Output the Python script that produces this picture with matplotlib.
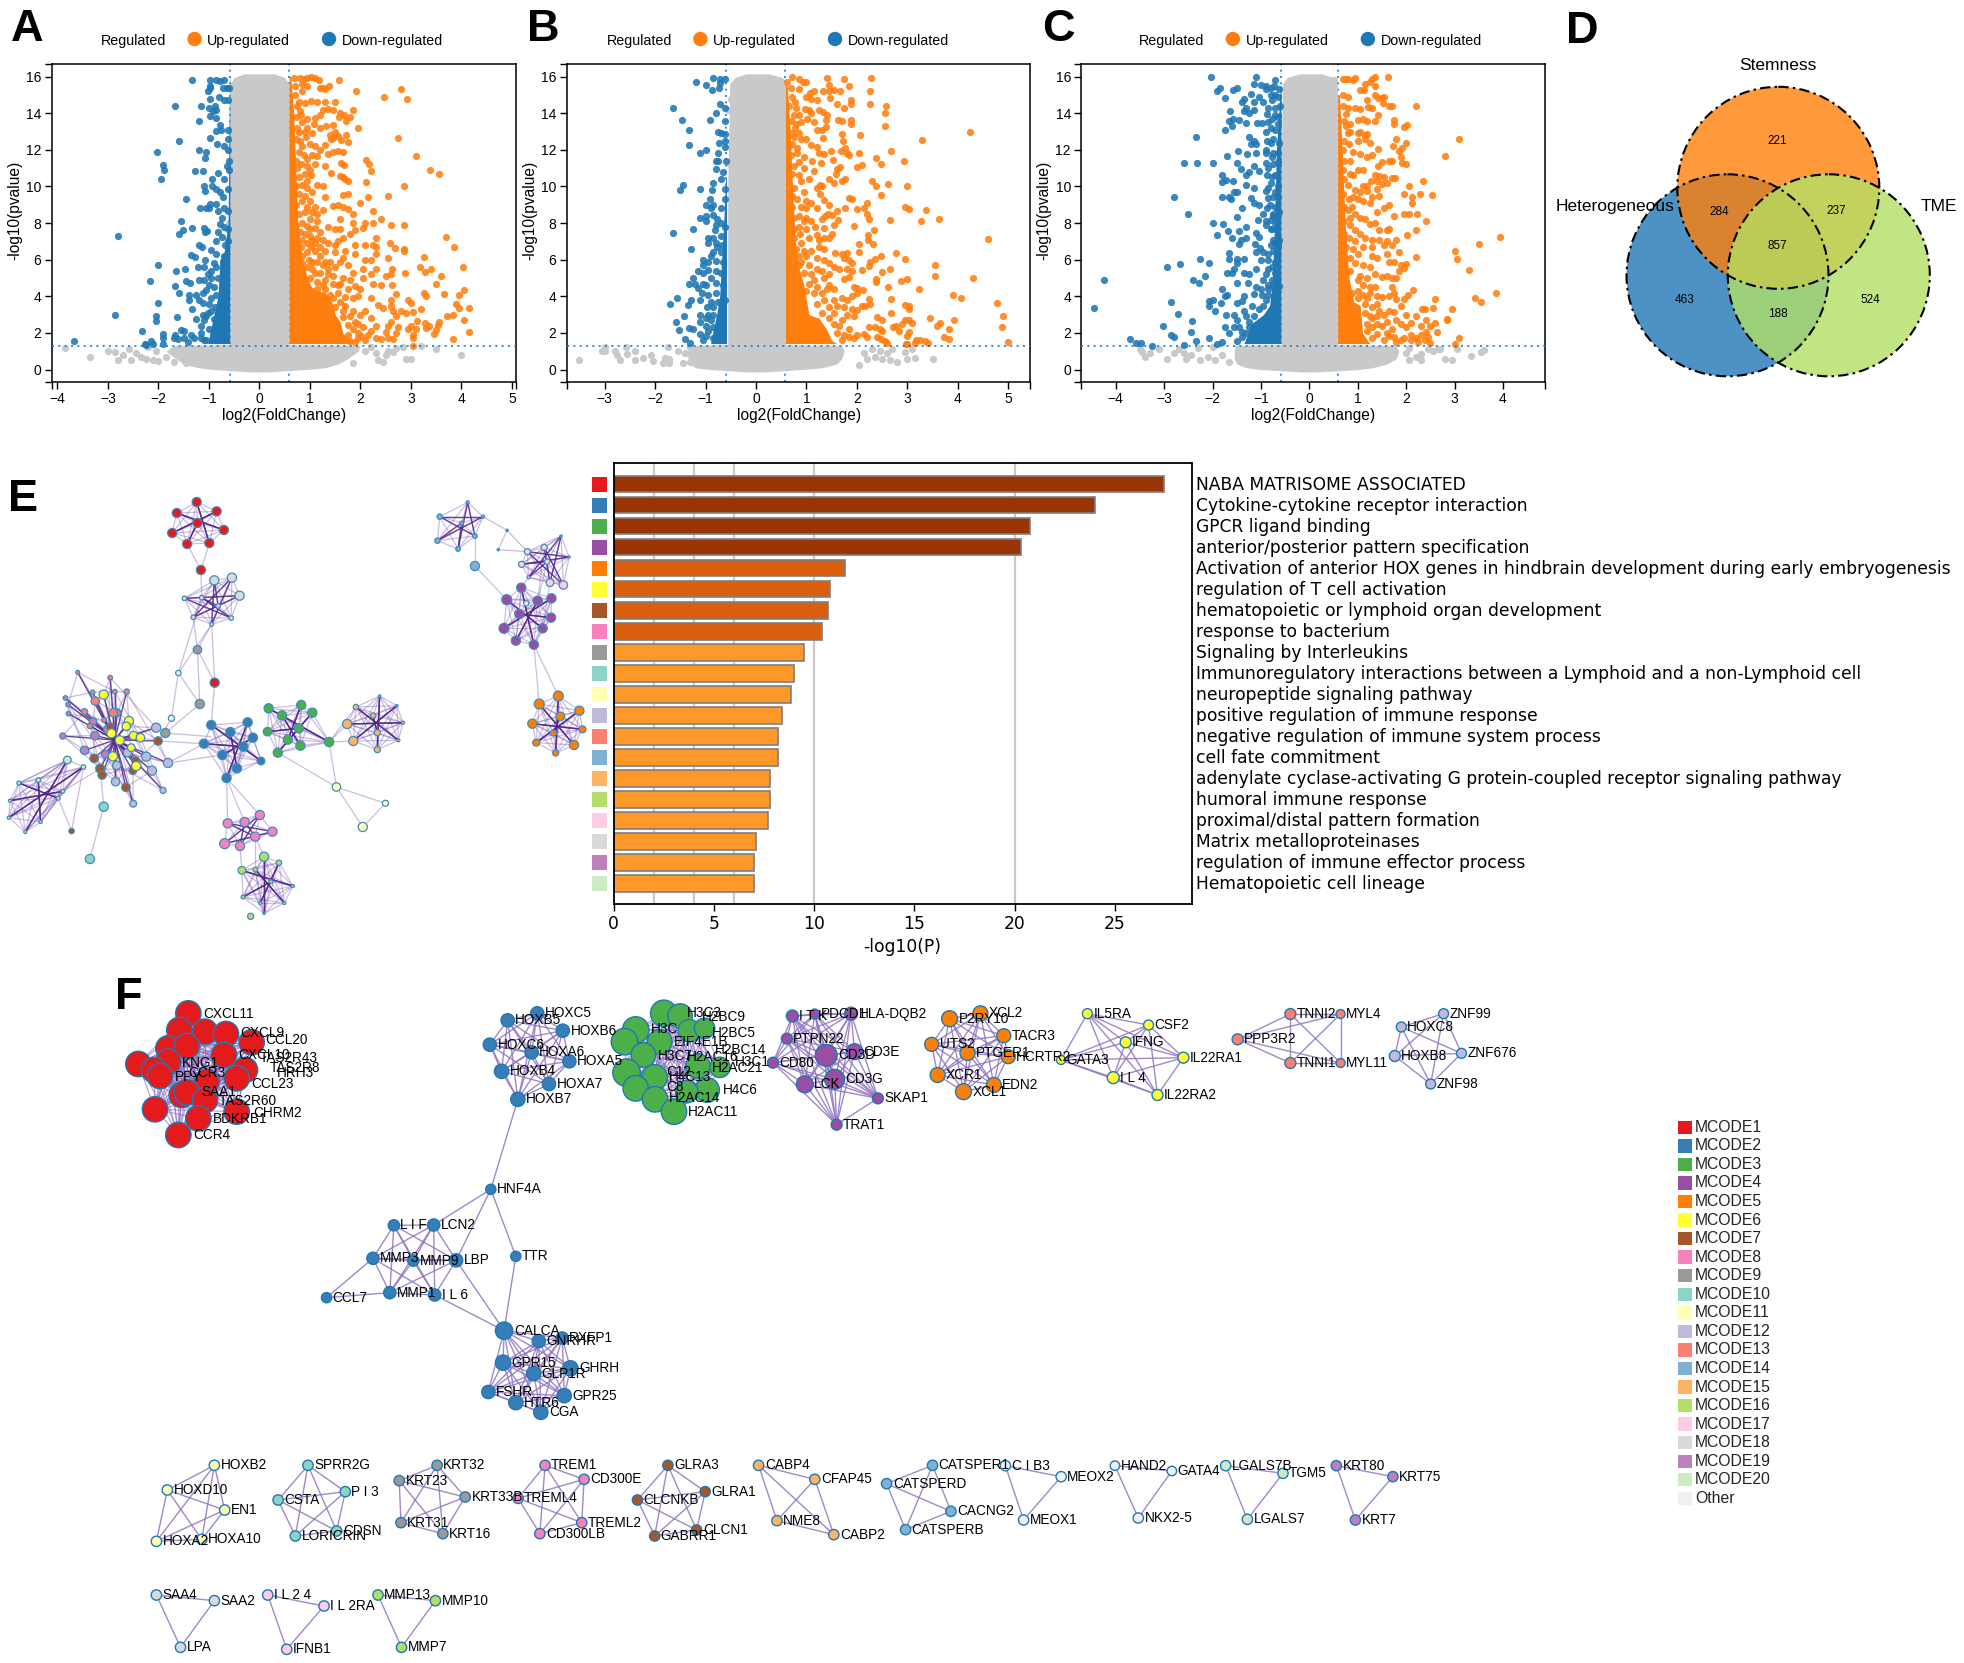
import itertools
import numpy as np
import matplotlib
matplotlib.use("Agg")
import matplotlib.pyplot as plt
from matplotlib.collections import LineCollection
from matplotlib.patches import Circle, Polygon, Rectangle

plt.rcParams['font.family'] = ['Liberation Sans', 'DejaVu Sans']
W, H = 1965, 1663

# ---------- volcano panels (log2FC, -log10p pairs) ----------
A_UP = [0.68,15.9,0.8,15.9,0.88,15.85,0.95,15.9,1.03,16,1.1,15.9,1.17,15.8,1.58,15.8,0.7,15.5,0.85,15.6,0.95,15.5,1.25,15.4,1.37,15.5,1.3,15.3,1.2,15.35,1.92,15.2,2.8,15.3,2.47,14.9,2.92,14.8,0.7,15,0.85,15.2,0.78,14.6,0.9,14.55,1.02,14.65,1.15,14.6,1.3,14.6,1.5,14.6,1.35,14.25,1.25,14.2,0.8,14.1,1.2,13.9,1.45,14.15,1.6,14,1.58,13.8,1.85,14.15,1.8,13.8,1.68,13.9,1.72,13.55,1.95,13.2,1.1,13.75,0.95,13.7,0.85,13.5,1.08,13.4,1.2,13.2,1.32,13.3,1.45,13.35,0.75,13.2,0.9,13.0,1.05,12.9,1.5,13,1.4,12.8,1.45,12.65,1.55,12.75,1.72,12.8,1.62,12.55,1.75,12.45,2.75,12.65,1.42,12.6,1.3,12.25,1.1,12.2,0.85,12.2,0.8,12.5,1.2,12,1.35,11.75,1.45,11.9,1.65,11.9,1.55,11.95,1.05,11.7,0.95,11.5,1.15,11.65,2.12,11.45,2.17,11.2,2.2,10.85,3.1,11.65,3.37,10.9,3.55,10.7,1.62,11.3,1.67,11.15,0.75,11,1.1,11.2,1.3,11.1,0.9,10.7,1.0,10.9,1.42,10.75,1.6,10.55,1.7,10.4,1.75,10.3,1.65,10.5,2.12,10.25,2.87,10,2.55,9.5,1.75,9.6,1.65,9.55,0.95,10.3,1.15,10.1,1.25,10,1.3,9.4,2.15,9.4,2.0,9.1,1.55,9,1.65,8.9,1.45,8.95,1.75,8.75,1.85,8.5,2.25,8.65,2.4,8.25,1.6,8.25,1.85,8.0,2.1,8.0,2.25,8.0,2.6,7.9,2.87,7.9,2.05,7.75,1.9,7.6,1.8,7.4,1.6,7.7,1.35,7.8,1.5,7.7,1.2,7.5,1.0,7.7,1.65,7.2,1.55,7.0,1.5,6.8,2.3,7.2,2.58,6.9,2.1,6.8,1.9,6.8,2.25,6.8,2.3,6.7,2.68,6.65,2.87,6.6,2.87,6.5,3.7,7.25,3.85,6.7,2.3,6.3,1.9,6.3,2.55,6.1,3.25,6.15,2.1,6,2.2,6,1.65,6.1,1.4,5.9,1.2,6.2,1.1,6.5,2.05,5.5,2.3,5.5,2.2,5.2,2.05,5.0,2.63,5.5,2.6,5.2,2.5,5.1,2.88,5.3,3.17,5.6,3.27,5.35,3.4,5.5,3.6,5.1,4.03,5.6,3.5,4.7,2.25,4.7,2.4,4.6,2.62,4.6,2.7,4.15,3.25,4.2,3.3,4.0,3.65,4.15,4.05,4.35,3.95,4.1,2.95,3.8,3.0,3.65,2.6,3.8,2.6,3.5,3.05,3.15,3.2,3.3,3.9,3.6,3.95,3.35,4.15,3.35,3.72,2.95,3.83,3.0,3.55,2.6,3.53,2.45,3.27,2.55,4.05,2.7,3.12,2.65,3.0,2.4,2.95,2.2,3.1,2.2,3.45,1.95,3.5,2.15,3.3,2.25,3.35,2.4,4.15,2.05,3.05,1.9,3.05,1.7,3.83,1.65,3.05,1.3,2.35,3.55,2.45,3.35,2.65,3.2,2.7,2.95,2.8,3.2,2.9,3.1,2.2,3.9,2.0,4.4,1.9,4.55,2.6,2.6,2.55,2.4,2.75,2.3,2.5,2.05,2.7,2.0,2.3,1.7,2.4,1.65,2.55,1.7,2.65,1.65,2.15,1.9,
0.9,9.5,1.0,9.2,1.1,8.9,1.25,8.7,0.9,8.6,1.0,8.2,1.15,8.1,0.9,7.4,1.05,7.1,1.25,7.1,1.35,6.9,0.95,6.9,1.1,6.9,1.3,6.5,1.5,6.4,1.7,6.5,1.6,5.9,1.75,5.7,1.85,5.3,1.5,5.6,1.35,5.5,1.25,5.7,1.05,5.9,0.95,5.6,1.1,5.3,1.45,5.1,1.65,5.0,1.8,4.9,1.3,4.9,1.55,4.6,1.75,4.4,1.95,4.0,1.85,3.9,1.7,3.95,2.1,3.2,2.0,3.0,2.2,2.8,1.9,2.6,2.05,2.3,2.2,2.1,2.3,2.4,1.95,2.0,2.1,1.6,1.9,1.5,1.3,4.4,1.4,4.1,1.55,4.2,
0.74,14.4,0.72,13.8,0.83,13.9,0.78,13.0,0.95,13.2,0.72,12.6,0.92,12.7,1.0,12.3,0.78,11.9,0.88,11.7,0.72,11.4,0.82,11.2,0.95,11.1,1.02,10.6,0.78,10.5,0.85,10.1,0.72,10.0,0.95,9.9,1.05,9.7,0.78,9.6,0.85,9.2,0.72,9.0,0.95,8.9,0.78,8.5,1.05,8.6,1.15,8.5,0.85,8.0,0.72,7.9,0.95,7.85,1.1,7.75,0.8,7.5,0.85,7.1,1.0,7.3,1.15,7.2,0.72,6.9,0.82,6.7,0.95,6.4,1.02,6.7,1.2,6.7,0.85,6.2,0.98,6.0,1.15,5.9,1.3,5.9,0.85,5.8,1.05,5.5,1.2,5.3,1.35,5.2,1.0,5.0,1.15,4.8,1.25,4.6,1.45,4.7,1.15,4.4,1.05,4.3,1.6,4.7,1.25,4.0,1.45,3.9,1.6,3.7,1.35,3.7,1.5,3.4,1.65,3.2,1.7,3.5,1.85,3.2,1.8,2.9,1.65,2.85,1.95,2.5,1.75,2.45,1.85,2.2,1.75,1.9,1.95,1.75,2.02,1.85,1.8,1.55]
A_DOWN = [-1.33,15.8,-0.97,15.8,-0.98,15.5,-0.85,15.8,-0.78,15.75,-0.7,15.8,-0.72,15.4,-0.65,15.35,-0.6,15.4,-1.02,15.2,-0.98,15.4,-0.98,14.75,-0.8,14.9,-0.7,14.7,-0.62,14.7,-1.68,14.4,-1.15,14.4,-1.0,14.3,-0.88,14.4,-0.85,14.2,-0.92,14.1,-0.97,13.85,-0.86,13.75,-1.2,13.55,-0.78,13.35,-0.85,13.05,-0.77,13.1,-0.63,13.1,-0.98,12.65,-0.62,12.6,-1.6,12.5,-0.83,12.3,-0.7,12.2,-0.62,12.0,-1.2,12,-1.06,11.9,-2.03,11.9,-1.08,11.55,-0.6,11.4,-0.65,11.1,-1.9,11.15,-1.88,10.9,-1.28,10.85,-1.12,10.85,-0.82,10.75,-0.6,10.9,-1.95,10.4,-0.93,10.4,-0.7,10.4,-1.1,10.05,-0.93,10,-0.85,9.85,-0.78,9.7,-0.62,9.85,-1.08,9.75,-0.72,9.45,-1.45,9.3,-0.85,9.05,-0.97,9.05,-1,8.85,-1.06,8.85,-1.18,8.85,-0.7,8.85,-0.82,8.65,-0.62,8.65,-0.75,8.3,-1.55,8.1,-0.78,7.95,-0.7,7.8,-0.62,7.7,-1.1,7.75,-1.33,7.75,-1.03,7.55,-1.52,7.65,-1.08,7.5,-1.6,7.4,-0.82,7.5,-2.8,7.3,-0.75,7.25,-0.62,7.0,-1.2,6.8,-1.13,6.7,-0.68,6.8,-0.95,6.55,-1.35,6.25,-1.28,6.15,-1.08,6.0,-0.85,6.3,-0.7,6.2,-2.0,5.7,-1.22,5.6,-1.47,5.5,-1.65,5.4,-1.1,5.6,-0.9,5.8,-2.17,4.85,-1.45,4.85,-1.38,4.75,-1.2,4.9,-1.1,4.9,-1.67,4.55,-1.6,4.2,-1.0,4.6,-1.4,4.05,-1.25,4.05,-1.12,4.2,-1.4,3.8,-2.0,3.65,-1.2,3.8,-1.12,3.65,-1.33,3.3,-1.02,3.1,-2.85,3.0,-2.05,2.9,-2.04,2.65,-1.63,2.85,-1.25,2.75,-1.1,2.7,-1.15,2.4,-2.33,2.1,-1.55,2.15,-1.5,2.1,-1.9,1.95,-1.68,1.9,-1.7,1.75,-1.9,1.7,-1.62,1.65,-1.5,1.7,-1.35,1.9,-1.3,1.7,-1.15,2.0,-3.67,1.55,-2.15,1.55,-2.1,1.4,-2.27,1.4,-2.25,1.35,-1.42,1.5,-1.1,1.6,-1.9,1.4,
-0.72,5.9,-0.85,5.6,-0.95,5.4,-0.82,5.0,-0.95,5.0,-1.02,5.2,-0.9,4.5,-1.05,4.35,-0.85,4.1,-0.95,3.9,-1.0,3.6,-0.88,3.4,-0.95,3.2,-1.05,2.9,-0.9,2.75,-1.15,1.75,-1.0,2.2,-1.05,1.6,-1.12,3.0,-0.85,7.0]
A_GRAY = [-3.85,1.2,-3.35,0.7,-3,1,-2.85,0.95,-2.8,0.55,-2.7,0.8,-2.58,1.15,-2.55,0.5,-2.45,0.9,-2.35,0.7,-2.25,0.6,-2.1,0.5,-2,0.45,-1.85,0.7,-1.7,0.4,-1.6,1.0,-2.2,1.25,-2.05,1.0,-1.45,0.35,-1.3,0.45,2.1,1.0,2.3,0.9,2.35,0.55,2.45,0.4,2.55,1,2.7,1.2,2.85,1.25,2.9,0.6,3.0,0.6,3.2,1.3,3.5,1.1,4,0.8,2.5,0.8,2.65,0.95,2.2,1.25,1.85,0.35,-0.6,8.0,-0.56,7.0,-0.58,9.8,-0.55,12.3]
B_UP = [0.72,16,0.85,15.85,0.93,15.7,1.0,15.7,0.62,15.7,0.7,15.4,0.85,15.3,1.08,15.1,1.15,15.2,1.0,14.9,1.1,14.8,1.2,14.7,1.45,15.2,1.4,15.9,1.45,15.55,1.75,15.85,1.85,15.5,1.55,15.25,1.67,15.2,1.32,15.2,1.47,14.85,1.6,14.5,1.75,14.3,1.88,14.7,1.88,14.5,0.65,14.4,0.8,14.3,0.75,13.9,0.85,13.9,0.98,14.25,1.05,14.2,1.1,14.0,1.25,14.2,1.32,14.05,1.4,13.9,1.38,13.65,1.62,13.65,1.7,13.6,1.88,13.65,1.88,13.4,0.8,13.4,0.9,13.5,1.02,13.7,1.15,13.5,1.2,13.1,1.3,13.1,1.38,13.25,1.7,12.85,2.07,12.8,0.75,12.7,0.9,12.6,1.0,12.6,1.32,12.65,1.72,12.5,0.65,12.2,1.1,12.25,1.2,12.15,1.25,11.85,1.35,11.75,1.48,11.95,1.68,11.95,1.76,12.1,1.8,11.85,1.85,11.7,2.05,11.8,0.75,11.1,0.85,11.35,0.95,11.0,1.12,11.4,1.15,10.85,1.28,11.3,1.53,11.45,1.6,10.95,1.67,11.05,1.58,10.7,1.77,10.4,1.45,10.4,1.55,10.2,1.27,10.1,1.05,10.4,0.9,10.3,0.65,10.15,0.75,9.9,0.95,9.7,1.2,9.9,1.3,10.0,1.27,9.6,1.7,10.3,1.85,9.35,1.9,9.3,1.35,9.25,1.45,9.0,1.0,9.2,1.1,9.1,1.0,8.8,1.2,8.85,1.5,8.45,1.42,8.5,1.6,8.65,1.77,8.8,1.3,8.25,1.37,8.4,1.62,8.15,0.85,8.4,1.0,8.3,1.1,8.1,1.17,7.8,1.35,7.75,1.55,7.9,1.95,7.85,0.85,7.8,1.0,7.7,1.2,7.35,1.5,7.4,1.45,7.2,1.35,7.2,1.25,7.1,0.75,7.2,0.9,6.9,1.25,6.7,1.35,6.6,1.57,6.35,1.8,6.35,1.75,6.1,1.85,6.0,1.9,5.8,1.7,6.3,1.35,6.0,1.45,5.8,1.2,6.1,1.0,6.2,0.9,5.9,4.25,12.95,3.3,12.55,4.6,7.15,4.3,5.0,3.55,5.7,3.55,5.1,3.9,4.05,4.07,3.9,4.78,3.65,4.9,2.95,3.93,2.7,3.65,2.55,3.58,2.4,3.45,2.8,3.82,2.2,4.87,2.3,5.0,1.5,3.72,1.8,3.82,1.65,3.38,8.7,3.62,8.25,3.27,8.1,2.95,8.9,3.03,8.75,3.0,10,2.93,11.4,2.68,11.95,2.28,15.9,2.27,15.2,2.27,14.5,2.58,14.4,2.55,14,2.55,13.3,2.38,11.55,2.48,11.25,2.1,11.15,2.0,11.05,2.3,10.3,2.37,10,2.62,10.15,2.47,9.55,2.2,9.1,2.0,8.75,2.15,8.85,2.2,8.5,2.25,8.25,2.65,8.15,2.33,7.65,2.22,7.35,2.22,7.1,2.32,6.85,2.05,6.85,2.05,6.4,2.77,6.35,2.95,6.05,2.47,6.2,2.35,6.05,2.27,5.9,2.25,5.65,2.1,5.45,2.65,5.5,2.5,5.35,3.23,4.4,3.0,4.95,2.87,4.85,2.62,4.5,2.37,4.8,2.37,4.95,2.67,3.85,2.13,4.35,2.25,3.85,2.27,3.6,2.96,3.55,3.03,3.45,3.03,3.3,2.67,3.1,2.1,3.5,2.17,3.5,2.0,3.25,2.4,2.85,2.5,2.7,2.96,2.7,3.03,2.7,3.1,2.55,2.78,2.4,2.72,2.35,2.9,2.5,2.83,2.1,3.03,2.05,3.0,1.85,2.35,2.3,2.25,2.3,2.45,2.2,2.5,2.1,2.15,1.95,2.2,1.8,2.4,1.8,2.48,1.65,2.55,1.55,2.6,1.45,3.0,1.4,2.97,1.4,3.15,1.45,3.17,1.6,3.25,1.6,3.35,1.55,3.42,1.45,
1.55,5.6,1.65,5.5,1.8,5.5,1.9,5.4,1.85,5.05,1.75,4.95,1.95,4.5,2.0,4.45,2.0,4.2,1.9,4.0,1.8,3.8,1.7,3.9,1.55,3.8,1.6,3.5,1.75,3.4,1.9,3.3,1.8,3.0,1.95,2.95,1.7,2.7,1.65,2.4,1.55,4.4,1.45,4.6,1.35,5.0,1.15,4.9,1.2,4.5,1.3,4.2,
0.72,14.9,0.78,14.6,0.7,13.6,0.78,13.2,0.72,12.9,0.85,12.9,0.72,12.3,0.82,12.1,0.7,11.7,0.82,11.8,0.95,11.6,0.72,10.7,0.85,10.6,0.72,9.5,0.82,9.3,0.72,8.9,0.9,8.9,0.75,8.3,0.95,8.1,0.75,7.7,0.88,7.4,1.05,7.2,0.8,6.6,0.95,6.5,1.1,6.5,0.85,6.2,0.85,5.7,1.05,5.7,1.2,5.5,0.95,5.3,1.1,5.2,1.3,5.4,1.45,5.2,1.05,4.7,1.0,4.3,1.15,4.2,1.4,4.4,1.35,3.8,1.2,3.6,1.45,3.4,1.3,3.1,1.55,3.1,1.45,2.8,1.55,2.5,1.6,2.0,1.75,1.9,1.85,1.8,1.95,1.7,1.7,1.6,1.85,2.2,2.0,1.9]
B_DOWN = [-1.18,15.7,-1.0,15.55,-0.85,15.9,-0.72,15.85,-0.62,15.85,-0.72,15.65,-0.87,15.25,-0.73,15.4,-0.72,14.5,-0.62,14.3,-1.65,14.3,-0.8,14,-1.47,13.65,-0.92,13.65,-0.62,13.6,-1.33,13.1,-0.75,13,-0.7,12.9,-0.62,12.85,-0.62,12.5,-1.33,12.25,-0.73,12.4,-0.62,12.15,-1.0,12.0,-1.1,11.85,-0.75,11.85,-0.8,11.4,-0.75,11.4,-0.6,11.4,-0.8,10.95,-0.65,10.8,-1.45,10.1,-1.5,9.8,-1.1,9.85,-0.85,10.2,-0.7,10.4,-0.62,9.85,-0.87,9.8,-0.92,9.3,-1.0,9.0,-0.62,9.3,-0.7,8.85,-0.9,8.85,-1.0,8.4,-1.1,8.3,-1.0,8.1,-0.85,8.45,-0.8,7.9,-0.7,8.0,-0.62,7.8,-1.25,7.7,-1.65,7.45,-0.95,7.2,-0.85,7.2,-0.7,7.3,-0.95,6.9,-0.8,6.9,-0.68,6.8,-1.28,6.6,-0.85,6.4,-0.7,6.4,-1.05,6.0,-0.95,5.9,-0.8,5.95,-0.65,5.9,-1.15,5.4,-1.05,5.3,-0.95,5.45,-0.8,5.4,-0.7,5.3,-1.25,5.0,-1.32,4.7,-1.2,4.65,-1.15,4.45,-1.0,4.6,-0.8,4.75,-0.65,4.6,-1.07,4.2,-0.95,4.1,-0.8,4.2,-1.57,3.9,-1.7,3.6,-1.28,3.8,-1.35,3.55,-0.97,3.4,-0.75,3.7,-0.62,3.8,-1.42,2.9,-0.95,3.0,-0.85,3.0,-1.1,2.6,-1.0,2.4,-1.58,2.6,-1.53,2.15,-1.32,2.25,-1.25,2.2,-0.85,2.3,-1.4,1.65,-1.3,1.45,-1.1,1.95,-0.85,1.7,
-1.0,1.85,-1.05,1.6,-0.95,2.1,-0.9,2.7,-1.0,2.8,-1.1,3.0,-0.85,3.4,-0.9,3.7,-1.1,3.8,-1.05,4.7,-0.9,5.0,-1.05,5.7,-0.9,6.2,-0.78,6.7,-0.82,7.6,-0.78,8.2,-0.85,9.0]
B_GRAY = [-3.5,0.5,-3,1.25,-3,1.0,-3.05,1.0,-2.8,1.0,-2.75,0.8,-2.7,0.5,-2.57,1.25,-2.55,0.85,-2.4,1.0,-2.4,0.5,-2.23,0.65,-2.08,0.8,-2.05,0.45,-1.85,0.35,-1.8,0.65,-1.72,0.6,-1.72,0.35,-1.75,1.25,-1.55,1.0,-1.45,0.35,-1.4,0.9,-1.3,0.4,-1.3,1.25,2.15,0.9,2.2,0.6,2.3,1.15,2.35,0.7,2.45,1.0,2.5,0.6,2.6,0.9,2.65,0.55,2.7,1.1,2.8,0.4,2.95,0.95,3.0,0.6,3.1,1.1,3.15,0.65,3.5,0.6,2.05,0.25,-0.5,14.8,-0.55,14.2,-0.45,13.2,-0.5,12.5,0.42,15.8,0.52,15.7,-0.5,8.4,-0.52,11.2]
C_UP = [0.7,15.85,0.75,15.85,0.8,15.85,0.9,15.8,0.95,15.9,1.15,15.6,1.35,16,1.3,15.85,1.25,15.7,1.35,15.5,1.63,15.95,1.05,15.25,1.12,15.25,0.7,15,0.8,14.9,1.2,14.7,1.35,15,1.42,14.85,1.5,14.85,1.55,14.9,1.52,14.55,0.7,14.4,0.8,14.3,0.95,14.3,1.05,14.25,1.22,14.35,1.3,14.3,1.65,14.4,1.7,14.4,2.2,14.4,0.75,13.95,1.0,13.65,1.1,13.7,1.2,13.6,1.35,13.6,1.42,13.9,1.75,13.65,1.75,13.4,2.02,13.35,1.95,13.25,0.75,13.3,0.85,13.4,1.0,12.9,1.05,13,1.15,12.8,1.2,12.85,0.8,12.9,1.0,12.5,1.15,12.6,1.25,12.4,1.8,12.6,2.0,12.4,1.72,12.2,1.92,12.1,1.85,11.95,0.7,12.0,0.9,11.9,1.05,11.75,1.2,11.6,1.3,11.7,1.42,12.05,1.9,11.6,1.92,11.3,2.0,11.25,3.1,12.6,2.8,11.65,1.5,11.35,1.65,11.4,1.7,11.4,1.42,11.1,1.1,10.9,1.0,10.9,0.85,10.7,0.7,10.9,0.9,10.65,1.35,10.6,1.45,10.55,1.55,10.5,1.7,10.45,1.77,10.45,2.35,10.3,1.28,10.3,1.4,10.3,1.5,10.15,1.6,10.2,1.1,10.05,1.2,10.0,2.05,10,1.95,9.6,2.28,9.6,2.53,9.55,2.13,9.4,2.12,9.1,0.95,9.8,1.05,9.7,1.2,9.75,1.4,9.85,1.45,9.5,1.3,9.4,0.9,9.4,1.0,9.3,1.1,9.2,1.25,9.1,1.65,9,1.55,8.8,1.4,8.6,2.05,8.5,2.23,8.5,1.75,8.4,1.95,8.5,2.42,8.1,0.8,8.7,0.95,8.5,1.05,8.3,1.15,8.2,1.25,7.95,1.35,8.0,1.45,7.6,1.6,7.6,1.65,7.7,2.2,7.6,2.02,7.35,0.85,7.9,0.95,7.6,1.05,7.4,1.15,7.2,1.3,7.1,1.45,7.1,1.6,7.0,1.8,7.05,1.7,6.8,1.55,6.8,1.3,6.7,1.1,6.7,0.9,6.6,0.75,6.7,1.0,6.3,1.4,6.1,1.6,6.3,1.85,6.4,1.3,6.2,1.65,5.85,1.75,5.85,1.9,5.7,2.0,5.75,1.95,5.55,1.85,5.4,1.8,5.0,1.5,5.05,1.6,5.1,1.7,5.0,1.35,5.2,1.2,5.0,1.05,5.1,3.95,7.25,3.5,6.85,3.0,6.5,3.05,6.05,3.3,5.45,3.85,4.2,3.42,3.9,3.55,3.7,2.95,3.3,2.85,2.75,2.85,2.7,2.6,3.85,2.55,3.35,2.4,3.3,2.33,3.3,2.2,6.15,2.15,4.35,2.03,4.1,1.95,3.85,1.35,4.5,1.7,4.5,1.75,4.2,1.65,4.0,1.5,3.95,1.4,4.0,1.2,3.9,1.8,3.85,1.9,3.5,1.75,3.15,1.65,3.2,1.55,3.0,1.45,3.2,2.0,3.0,2.2,2.95,2.42,2.7,2.5,2.4,2.6,2.55,2.63,2.05,2.42,2.05,2.3,2.4,2.1,2.55,1.8,2.7,1.9,2.5,2.0,2.35,1.6,2.6,1.4,2.5,1.3,2.8,2.2,1.7,2.3,1.9,2.1,1.9,2.1,1.6,2.25,1.5,2.4,1.6,2.45,1.8,2.5,1.45,3.0,1.4,3.1,1.7,1.9,1.6,1.75,1.8,
0.72,13.6,0.85,13.0,0.72,12.5,0.82,12.3,0.72,11.4,0.85,11.4,0.72,10.4,0.8,10.1,0.7,9.6,0.82,9.3,0.72,8.9,0.88,8.9,0.72,8.1,0.85,8.3,0.72,7.4,0.82,7.2,0.95,7.0,0.7,6.3,0.85,6.1,0.95,5.8,1.1,5.7,1.25,5.6,0.85,5.4,1.0,4.9,1.1,4.6,1.25,4.5,1.0,4.3,0.88,4.2,1.1,4.1,1.25,4.2,1.0,3.9,1.15,3.6,1.3,3.4,1.4,3.6,1.15,3.1,1.25,2.9,1.4,2.9,1.2,2.5,1.3,2.3,1.5,2.4,1.2,2.1,1.4,1.95,1.6,2.0,1.7,2.2,1.3,1.75,1.55,1.6,1.8,1.5,1.65,1.85,1.95,1.75]
C_DOWN = [-2.03,15.95,-1.1,15.95,-1.15,15.6,-1.0,15.55,-0.9,15.5,-0.7,15.8,-0.72,15.5,-0.8,15.4,-0.9,15.3,-0.62,15.3,-1.5,15.35,-1.9,15.2,-1.85,15.35,-1.58,15.25,-1.75,14.85,-1.2,15.05,-1.05,14.9,-0.8,15.0,-0.7,15.0,-0.65,14.9,-1.35,14.75,-1.4,14.6,-1.3,14.3,-1.15,14.6,-0.95,14.6,-0.7,14.3,-0.6,14.4,-1.63,14.1,-1.35,14.1,-1.25,14.0,-1.15,14.2,-0.88,13.95,-0.7,13.9,-0.65,13.8,-1.58,13.7,-1.65,13.6,-1.45,13.65,-1.3,13.45,-1.08,13.45,-0.97,13.45,-0.85,13.5,-0.65,13.4,-1.6,13.3,-1.75,13.1,-0.8,13.2,-0.7,13.1,-2.35,12.7,-1.25,12.7,-1.15,12.5,-1.2,12.3,-1.1,12.3,-0.88,12.5,-0.75,12.6,-0.62,12.4,-1.48,11.95,-1.7,11.65,-1.28,11.75,-1.1,11.8,-0.9,11.85,-0.75,11.85,-0.65,11.85,-2.6,11.3,-2.33,11.3,-2.0,11.3,-1.5,11.3,-1.42,10.95,-1.15,11.1,-0.9,11.3,-0.75,11.2,-0.65,11.35,-1.8,10.6,-1.3,10.65,-1.25,10.8,-1.05,10.85,-0.88,10.6,-0.7,10.65,-1.72,10.35,-1.8,10.25,-1.57,10.3,-1.3,10.1,-0.65,10.05,-0.8,10.2,-1.5,9.7,-1.55,9.7,-1.15,9.9,-0.9,9.75,-0.7,9.7,-1.8,9.45,-1.65,9.45,-2.8,9.4,-1.62,9.3,-1.2,9.35,-0.85,9.35,-0.65,9.4,-1.4,8.85,-1.15,9.1,-1.05,9.0,-0.88,8.85,-0.7,8.9,-2.5,8.5,-1.5,8.35,-0.95,8.5,-0.75,8.5,-0.62,8.6,-2,8.0,-1.78,7.95,-1.07,8.15,-0.8,8.15,-0.7,8.0,-1.3,7.8,-0.9,7.9,-1.68,7.55,-1.45,7.55,-1.1,7.45,-0.8,7.7,-1.9,7.35,-1.6,7.2,-1.42,7.1,-1.3,7.2,-1.05,7.25,-0.75,7.1,-0.62,7.1,-1.45,6.85,-1.12,6.85,-1.02,6.65,-0.8,6.8,-0.65,6.8,-1.65,6.35,-1.1,6.4,-0.95,6.4,-0.75,6.5,-2.25,6.05,-1.65,6.05,-1.5,6.05,-1.35,6.05,-1,6.0,-0.85,6.0,-0.7,5.9,-2.95,5.6,-2.68,5.75,-2.08,5.8,-1.5,5.8,-1.55,5.5,-1.1,5.5,-0.85,5.5,-0.7,5.3,-2.15,5.1,-1.7,5.3,-1.6,5.3,-1.35,5.25,-1.25,5.2,-2.4,4.9,-2.27,4.75,-1.5,4.75,-1.27,4.75,-0.95,4.9,-0.75,4.6,-0.62,4.55,-4.25,4.9,-1.8,4.4,-1.1,4.5,-0.85,4.4,-1.75,4.0,-1.7,4.05,-1.35,4.0,-1.15,4.15,-0.98,4.05,-0.85,4.05,-2.85,3.7,-2.08,3.75,-2.0,3.8,-1.82,3.65,-1.5,3.65,-1.4,3.75,-2.08,3.45,-1.95,3.2,-1.18,3.5,-0.95,3.5,-4.45,3.35,-2.72,3.05,-1.72,3.0,-1.55,3.0,-1.35,3.2,-1.3,2.95,-2.42,2.65,-3.02,2.4,-1.25,2.6,-1.75,2.3,-1.55,2.35,-2.45,2.05,-2.85,1.9,-2.8,1.8,-1.65,2.0,-1.4,2.05,-1.3,2.0,-2.08,1.7,-1.9,1.4,-2.35,1.55,-2.6,1.35,-1.8,1.5,-3.7,1.65,-3.58,1.45,-3.47,1.45,-3.25,1.3,
-0.78,14.7,-0.85,14.3,-0.78,13.7,-0.9,13.0,-0.8,12.4,-0.9,12.0,-0.78,11.6,-0.85,11.0,-0.78,10.5,-0.85,9.9,-0.75,9.4,-0.82,9.0,-0.75,8.4,-0.9,8.1,-0.78,7.7,-0.72,6.9,-0.85,6.3,-0.78,5.6,-0.9,5.2,-0.78,4.9,-0.85,4.6,-1.0,4.4,-0.9,3.8,-1.05,3.3,-1.15,2.9,-1.25,2.3,-1.4,1.8,-1.5,1.55,-1.45,2.3,-1.5,2.7]
C_GRAY = [-3.5,1.15,-3.45,0.95,-3.4,0.7,-3.3,0.9,-3.1,1.15,-2.95,0.6,-2.8,0.9,-2.7,1.15,-2.6,0.9,-2.55,0.6,-2.45,0.8,-2.3,1.2,-2.25,0.55,-2.1,0.7,-2.0,1.25,-1.95,0.5,-1.8,0.8,-1.65,0.4,2.0,0.9,2.05,1.2,2.05,0.55,2.2,0.7,2.3,0.85,2.3,0.5,2.45,1.15,2.55,1.0,2.65,1.1,2.7,1.15,2.8,0.6,2.95,0.55,3.05,1.15,3.35,0.75,3.55,0.95,3.6,1.05,0.5,15.8,0.47,15.6]

# dense zones read as outlines: -log10p level and the extent of the solid cloud there
GRAY_Y = [-0.13, 0.0, 0.1, 0.3, 0.6, 1.0, 1.32, 1.36, 4.0, 10.0, 15.6, 15.95, 16.15]
A_GRAY_LO = [-0.15, -0.9, -1.2, -1.5, -1.65, -1.85, -1.7, -0.58, -0.58, -0.6, -0.58, -0.5, -0.3]
A_GRAY_HI = [0.15, 0.9, 1.3, 1.55, 1.75, 1.95, 2.0, 0.58, 0.58, 0.6, 0.58, 0.5, 0.3]
B_GRAY_LO = [-0.15, -0.9, -1.2, -1.3, -1.35, -1.35, -1.3, -0.56, -0.56, -0.56, -0.52, -0.42, -0.2]
B_GRAY_HI = [0.15, 0.9, 1.3, 1.6, 1.7, 1.75, 1.7, 0.58, 0.6, 0.58, 0.6, 0.52, 0.25]
C_GRAY_LO = [-0.15, -1.0, -1.3, -1.5, -1.55, -1.55, -1.55, -0.58, -0.58, -0.58, -0.56, -0.46, -0.2]
C_GRAY_HI = [0.15, 1.0, 1.3, 1.6, 1.8, 1.85, 1.8, 0.58, 0.58, 0.58, 0.58, 0.5, 0.25]
A_UP_Y = [1.42, 2.0, 2.6, 3.0, 3.6, 4.2, 4.4, 5.0, 6.0, 7.0, 8.0, 11.0, 14.0, 16.0]
A_UP_X = [1.85, 1.65, 1.6, 1.5, 1.45, 1.3, 1.05, 0.95, 0.85, 0.8, 0.76, 0.72, 0.68, 0.62]
A_DN_Y = [1.42, 2.0, 3.0, 4.0, 5.0, 6.0, 6.4, 8.0, 16.0]
A_DN_X = [-1.02, -0.98, -0.9, -0.82, -0.8, -0.78, -0.7, -0.62, -0.59]
B_UP_Y = [1.42, 1.6, 2.2, 2.8, 3.0, 3.8, 4.6, 5.6, 7.0, 10.0, 13.0, 15.5]
B_UP_X = [1.6, 1.5, 1.4, 1.25, 1.05, 1.0, 0.95, 0.85, 0.78, 0.72, 0.68, 0.62]
B_DN_Y = [1.42, 2.0, 3.0, 4.0, 6.0, 8.0, 10.5]
B_DN_X = [-0.9, -0.86, -0.78, -0.72, -0.68, -0.64, -0.6]
C_UP_Y = [1.42, 2.0, 3.5, 3.7, 5.0, 8.0, 12.0, 15.0]
C_UP_X = [1.25, 1.1, 1.05, 0.92, 0.82, 0.74, 0.68, 0.62]
C_DN_Y = [1.42, 2.5, 3.0, 3.5, 5.0, 8.0, 12.0, 15.5]
C_DN_X = [-1.35, -1.2, -0.95, -0.82, -0.76, -0.72, -0.68, -0.6]

# ---------- Venn ----------
VENN_SETS = ["Stemness", "Heterogeneous", "TME"]
VENN_COUNTS = {"221": (1777.7, 141), "284": (1719.3, 211.7), "237": (1836, 211), "857": (1777.7, 245.7),
               "463": (1685, 300.3), "188": (1778.3, 314.3), "524": (1870.7, 300.3)}

# ---------- enrichment bars ----------
TERMS = ["NABA MATRISOME ASSOCIATED", "Cytokine-cytokine receptor interaction", "GPCR ligand binding",
         "anterior/posterior pattern specification",
         "Activation of anterior HOX genes in hindbrain development during early embryogenesis",
         "regulation of T cell activation", "hematopoietic or lymphoid organ development", "response to bacterium",
         "Signaling by Interleukins", "Immunoregulatory interactions between a Lymphoid and a non-Lymphoid cell",
         "neuropeptide signaling pathway", "positive regulation of immune response",
         "negative regulation of immune system process", "cell fate commitment",
         "adenylate cyclase-activating G protein-coupled receptor signaling pathway", "humoral immune response",
         "proximal/distal pattern formation", "Matrix metalloproteinases", "regulation of immune effector process",
         "Hematopoietic cell lineage"]
LOGP = [27.45, 24.02, 20.75, 20.32, 11.54, 10.79, 10.71, 10.39, 9.49, 8.97, 8.86, 8.38, 8.2, 8.2, 7.81, 7.81, 7.71, 7.08, 7.0, 6.98]
MCODE_COLORS = ['#e41a1c', '#377eb8', '#4daf4a', '#984ea3', '#ff7f00', '#ffff33', '#a65628', '#f781bf', '#999999', '#8dd3c7',
                '#ffffb3', '#bebada', '#fb8072', '#80b1d3', '#fdb462', '#b3de69', '#fccde5', '#d9d9d9', '#bc80bd', '#ccebc5']
MCODE_NAMES = ["MCODE%d" % i for i in range(1, 21)] + ["Other"]
OTHER = '#f0f0f0'

# ---------- network E: (mcode, [x, y, r ...]) in layout units ----------
E_GROUPS = [
 [(1,[514,96,12,462,129,12,566,124,12,516,159,12,450,189,12,585,180,12,489,222,12,547,219,12])],
 [(18,[560,331,12,606,323,12,626,377,12,482,385,6,527,383,6,570,408,6,505,442,6,604,444,6,553,463,5])],
 [(19,[171,684,6,178,704,6,179,731,6,164,798,8,243,755,10,248,797,11,221,841,11,275,853,10,306,728,10]),
  (13,[203,607,5,288,623,6,300,665,6,331,665,7,242,667,6,249,693,11,221,725,8,296,728,11,272,750,6,235,768,7,283,778,12]),
  (7,[288,770,10,413,813,11,246,865,11,354,871,10,262,896,12,347,902,10,267,915,11,329,952,11]),
  (12,[408,773,12,333,848,11,382,860,12,305,886,11,439,879,12,397,902,12,302,935,11,426,961,8,348,1001,9]),
  (6,[271,674,12,337,753,12,330,769,11,291,790,12,313,811,12,349,797,11,367,803,11,343,833,10,295,859,12,356,888,12])],
 [(20,[176,870,10,218,891,6,100,930,6,164,964,5,152,985,5,49,939,5,26,992,4,23,1043,4,106,1056,4,66,1086,4])],
 [(2,[552,765,12,533,821,12,602,786,12,647,757,12,661,803,12,636,830,12,581,855,12,619,895,12,682,873,10,592,924,12])],
 [(3,[702,715,12,737,736,12,787,705,12,816,728,12,699,785,11,781,775,12,752,809,12,785,827,12,726,848,12,860,816,12])],
 [(15,[907,762,12,923,813,12,930,711,7,975,737,7,986,788,8,986,839,8,992,678,3,1037,707,3,1053,758,4,1041,811,4])],
 [(8,[595,1060,12,639,1056,12,679,1035,12,712,1085,12,667,1100,12,587,1121,13,627,1128,12])],
 [(16,[690,1160,12,632,1201,10,667,1199,6,729,1178,7,708,1235,5,765,1248,4,635,1281,5,680,1299,4,743,1299,4,690,1330,3])],
 [(14,[1149,140,7,1222,97,4,1262,140,4,1206,159,5,1241,198,6,1143,212,7,1197,237,6])],
 [(17,[1378,245,8,1422,232,8,1430,275,7,1363,283,8,1437,338,10,1472,345,11,1466,198,3,1487,261,3,1381,322,4])],
 [(4,[1362,353,12,1324,389,13,1405,392,12,1441,385,12,1357,432,12,1440,443,12,1317,475,13,1418,475,12,1348,512,12,1395,524,12])],
 [(5,[1459,678,13,1409,702,13,1514,722,12,1464,739,11,1391,761,12,1522,778,9,1446,789,8,1401,818,9,1500,825,12,1452,849,8])],
 [(11,[879,951,11,948,1071,12,1007,1000,8])],
]
E_LONE = [(1,525,300,12),(1,561,638,12),(9,516,539,11),(9,522,702,12),(9,432,789,12),(0,466,609,7),(0,448,745,8),(7,187,1083,7),
          (10,271,1010,12),(10,235,1167,12),(16,655,1339,8),(14,1241,288,12),(14,1302,239,3),(14,1325,181,3),(0,1375,400,7)]
E_LINKS = [525,300,489,222, 525,300,547,219, 525,300,527,383, 505,442,516,539, 553,463,516,539, 527,383,466,609, 553,463,466,609,
 516,539,561,638, 553,463,561,638, 516,539,522,702, 466,609,448,745, 466,609,522,702, 561,638,552,765, 522,702,432,789, 448,745,413,813,
 413,813,533,821, 439,879,533,821, 439,879,581,855, 432,789,552,800, 860,816,923,813, 860,816,907,762, 860,816,930,711, 860,816,781,775,
 860,816,879,951, 726,848,879,951, 592,924,639,1056, 592,924,679,1035, 592,924,595,1060, 667,1100,690,1160, 667,1100,667,1199, 627,1128,632,1201,
 218,891,164,964, 262,896,164,964, 176,870,100,930, 176,870,49,939, 218,891,187,1083, 152,985,187,1083, 271,1010,235,1167, 271,1010,262,896,
 1241,198,1241,288, 1241,288,1324,389, 1262,140,1325,181, 1325,181,1302,239, 1302,239,1378,245, 1325,181,1378,245, 1395,524,1409,702, 1395,524,1459,678,
 1381,322,1362,353, 1430,275,1405,392, 1422,232,1405,392, 1437,338,1418,475, 1375,400,1405,392, 1375,400,1357,432]

# ---------- network F: (label, x, y, r); each list is one complete sub-network ----------
F_RED_NODES = [205,70,178,120,255,125,318,132,395,157,55,222,145,175,200,168,312,195,145,215,102,240,120,258,375,240,350,265,260,275,185,315,200,307,255,330,105,358,235,385,350,365,175,435]
F_RED_LABELS = [("CXCL11",250,72),("CXCL9",362,128),("CCL20",437,150),("CXCL10",355,195),("TAS2R43",420,205),("KNG1",185,218),("TAS2R8",450,235),("CCR3",205,250),("HRH3",470,250),("PPY",165,262),("CCL23",395,282),("SAA1",245,307),("TAS2R60",295,333),("CHRM2",400,370),("BDKRB1",280,387),("CCR4",220,436)]
F_GREEN_NODES = [1105,100,26,1137,108,24,1155,152,22,1185,145,20,1050,150,26,1028,185,26,1097,185,24,1065,225,24,1032,278,27,1087,292,25,1172,258,24,1215,262,20,1050,325,25,1088,358,25,1190,330,24,1150,335,22,1125,395,25]
F_GREEN_LABELS = [("H3C3",1150,100),("H2BC9",1180,110),("H3C",1080,148),("H2BC5",1200,158),("EIF4E1B",1125,186),("H2BC14",1205,210),("H3C7",1093,228),("H2AC16",1150,230),("H3C1",1245,247),("H2AC21",1200,265),("C12",1110,275),("H4C13",1115,292),("C8",1110,320),("H4C6",1220,330),("H2AC14",1115,355),("H2AC11",1152,395)]
F_Z4 = [
 (2,[("HOXC5",857,100,13),("HOXB5",799,121,13),("HOXB6",907,152,13),("HOXC6",764,194,13),("HOXA6",846,217,13),("HOXA5",920,244,13),("HOXB4",787,274,14),("HOXA7",880,312,13),("HOXB7",819,358,14)]),
 (2,[("L I F",576,736,11),("LCN2",654,735,12),("MMP3",535,835,12),("MMP9",614,842,11),("LBP",698,841,13),("MMP1",568,938,12),("I L 6",656,945,12)]),
 (2,[("CALCA",792,1052,17),("GNRHR",860,1083,13),("RXFP1",906,1074,12),("GPR15",790,1148,15),("GLP1R",850,1181,14),("GHRH",922,1165,15),("FSHR",761,1236,13),("GPR25",910,1247,14),("HTR6",815,1268,14),("CGA",864,1297,14)]),
 (2,[("HNF4A",766,628,10)]), (2,[("TTR",815,829,10)]), (2,[("CCL7",444,953,10)]),
]
F_Z4_LINKS = [819,358,766,628, 766,628,654,735, 766,628,698,841, 766,628,815,829, 815,829,792,1052, 698,841,792,1052, 656,945,792,1052, 444,953,535,835, 444,953,568,938]
F_Z9 = [
 (4,[("I T K",65,78,12),("PDCD1",110,72,10),("HLA-DQB2",183,71,13),("PTPN22",54,146,11),("CD3D",133,196,22),("CD3E",190,185,16),("CD80",26,218,11),("LCK",90,283,17),("CD3G",150,268,20),("SKAP1",237,325,11),("TRAT1",154,404,11)]),
 (5,[("P2RY10",381,86,16),("XCL2",443,70,15),("TACR3",490,137,14),("UTS2",345,163,14),("PTGER1",417,189,15),("HCRTR2",499,200,14),("XCR1",357,255,15),("EDN2",470,285,15),("XCL1",409,305,16)]),
 (6,[("IL5RA",658,71,10),("CSF2",781,105,10),("IFNG",735,157,11),("GATA3",605,210,9),("IL22RA1",851,203,11),("I L 4",710,263,12),("IL22RA2",799,315,11)]),
 (13,[("TNNI2",1066,72,11),("MYL4",1167,72,9),("PPP3R2",960,148,11),("TNNI1",1066,219,11),("MYL11",1167,219,9)]),
 (12,[("ZNF99",1374,71,10),("HOXC8",1289,111,10),("ZNF676",1410,190,10),("HOXB8",1276,198,11),("ZNF98",1348,282,10)]),
]
F_Z6 = [
 (11,[("HOXB2",147,76,9),("HOXD10",65,150,9),("EN1",165,210,9),("HOXA2",46,304,9),("HOXA10",125,298,9)]),
 (10,[("SPRR2G",310,76,9),("P I 3",375,155,9),("CSTA",258,180,9),("LORICRIN",288,288,9),("CDSN",360,273,9)]),
 (9,[("KRT32",535,76,9),("KRT23",469,122,9),("KRT33B",584,171,9),("KRT31",472,248,9),("KRT16",545,281,9)]),
 (8,[("TREM1",723,76,9),("CD300E",791,118,9),("TREML4",676,175,9),("TREML2",787,248,9),("CD300LB",714,281,9)]),
 (7,[("GLRA3",937,76,9),("GLRA1",1002,155,9),("CLCNKB",884,180,9),("CLCN1",987,270,9),("GABRR1",914,288,9)]),
 (15,[("CABP4",1095,76,9),("CFAP45",1193,118,9),("NME8",1127,242,9),("CABP2",1226,284,9)]),
 (14,[("CATSPER1",1398,76,9),("CATSPERD",1318,131,9),("CACNG2",1430,214,9),("CATSPERB",1351,269,9)]),
 (18,[("SAA4",46,465,9),("SAA2",147,482,9),("LPA",88,622,9)]),
 (17,[("I L 2 4",240,465,9),("I L 2RA",338,498,9),("IFNB1",273,628,9)]),
 (16,[("MMP13",432,465,9),("MMP10",532,482,9),("MMP7",473,622,9)]),
]
F_Z10 = [
 (0,[("C I B3",393,77,13),("MEOX2",534,110,13),("MEOX1",439,240,13)]),
 (0,[("HAND2",670,77,12),("GATA4",814,93,12),("NKX2-5",729,234,13)]),
 (20,[("LGALS7B",950,77,13),("TGM5",1095,100,13),("LGALS7",1005,238,13)]),
 (19,[("KRT80",1230,77,13),("KRT75",1373,110,13),("KRT7",1278,240,13)]),
]

# ---------- figure ----------
fig = plt.figure(figsize=(W/100, H/100), dpi=100, facecolor='white')
ORANGE, BLUE, GRAY = '#ff7f0e', '#1f77b4', '#c9c9c9'

def px_axes(l, t, r, b, **kw):
    return fig.add_axes([l/W, 1-b/H, (r-l)/W, (b-t)/H], **kw)

def pairs(v):
    return np.array(v, dtype=float).reshape(-1, 2)

def volcano(box, xlim, xticks, glo, ghi, gray, upy, upx, dny, dnx, up, down):
    ax = px_axes(*box)
    ax.set_xlim(*xlim); ax.set_ylim(-0.66, 16.67)
    ax.fill_betweenx(GRAY_Y, glo, ghi, color=GRAY, lw=0, zorder=2)
    g = pairs(gray); ax.scatter(g[:,0], g[:,1], s=27, c=GRAY, lw=0, zorder=2)
    ax.fill_betweenx(upy, 0.585, upx, color=ORANGE, lw=0, zorder=3)
    ax.fill_betweenx(dny, -0.585, dnx, color=BLUE, lw=0, zorder=3)
    u = pairs(up); ax.scatter(u[:,0], u[:,1], s=27, c=ORANGE, alpha=.88, lw=0, zorder=3)
    d = pairs(down); ax.scatter(d[:,0], d[:,1], s=27, c=BLUE, alpha=.88, lw=0, zorder=3)
    ls = (0, (1.2, 2.6))
    ax.axhline(1.3, color='#1f77d0', lw=1.2, ls=ls, zorder=4)
    for v in (-0.585, 0.585):
        ax.axvline(v, color='#1f77d0', lw=1.2, ls=ls, zorder=1.5)
    xt = [xlim[0]] + xticks + [xlim[1]]
    ax.set_xticks(xt, [''] + [str(t).replace('-', '\u2212') for t in xticks] + [''])
    yt = [-0.66] + list(range(0, 17, 2)) + [16.67]
    ax.set_yticks(yt, [''] + [str(t) for t in range(0, 17, 2)] + [''])
    ax.tick_params(length=5, width=1, labelsize=10, pad=2.5)
    for s in ax.spines.values():
        s.set_linewidth(1.1)
    return ax

BOX_T, BOX_B = 64.3, 381.7
volcano((51.8, BOX_T, 516, BOX_B), (-4.11, 5.08), [-4,-3,-2,-1,0,1,2,3,4,5], A_GRAY_LO, A_GRAY_HI, A_GRAY, A_UP_Y, A_UP_X, A_DN_Y, A_DN_X, A_UP, A_DOWN)
volcano((566.8, BOX_T, 1030.4, BOX_B), (-3.75, 5.44), [-3,-2,-1,0,1,2,3,4,5], B_GRAY_LO, B_GRAY_HI, B_GRAY, B_UP_Y, B_UP_X, B_DN_Y, B_DN_X, B_UP, B_DOWN)
volcano((1081.4, BOX_T, 1545, BOX_B), (-4.71, 4.87), [-4,-3,-2,-1,0,1,2,3,4], C_GRAY_LO, C_GRAY_HI, C_GRAY, C_UP_Y, C_UP_X, C_DN_Y, C_DN_X, C_UP, C_DOWN)

# bars
bx = px_axes(613.7, 463.3, 1191.8, 904)
bx.set_xlim(0, 28.83); bx.set_ylim(19.985, -0.985)
for g in (2, 4, 6, 10, 20):
    bx.axvline(g, color='#c9c9c9', lw=1.6, zorder=1)
bar_colors = ['#993404' if v >= 20 else '#d95f0e' if v >= 10 else '#fe9929' for v in LOGP]
bx.barh(range(len(LOGP)), LOGP, height=0.8, color=bar_colors, edgecolor='#7f7f7f', linewidth=1.2, zorder=2)
bx.set_yticks([])
bx.set_xticks([0, 5, 10, 15, 20, 25])
bx.tick_params(axis='x', labelsize=12.3, length=5, width=1, pad=3, labelfontfamily='DejaVu Sans')
for s in bx.spines.values():
    s.set_linewidth(1.3)

# overlay in picture pixels
ov = fig.add_axes([0, 0, 1, 1], facecolor='none', zorder=5)
ov.set_xlim(0, W); ov.set_ylim(H, 0); ov.axis('off')

for t, x, b in [("A", 11, 40.7), ("B", 527.5, 40.7), ("C", 1042, 40.7), ("D", 1566, 43), ("E", 8, 511), ("F", 115, 1009)]:
    ov.text(x, b, t, fontsize=32.5, fontweight='bold', ha='left', va='baseline')

LEG = [(100.7, 194.6, 207, 329, 342), (606.8, 700.4, 713, 835, 848), (1139.3, 1232.9, 1245.7, 1367.9, 1380.7)]
for a, d1, b, d2, c in LEG:
    ov.text(a, 41, "Regulated", fontsize=10.3, va='center')
    ov.add_patch(Circle((d1, 39), 7.2, color=ORANGE, lw=0))
    ov.text(b, 41, "Up-regulated", fontsize=10.3, va='center')
    ov.add_patch(Circle((d2, 39), 7.2, color=BLUE, lw=0))
    ov.text(c, 41, "Down-regulated", fontsize=10.3, va='center')
for xc, yl in [(283.8, 15), (798.6, 530), (1313, 1044)]:
    ov.text(xc, 415.7, "log2(FoldChange)", fontsize=11.2, ha='center', va='center')
    ov.text(yl, 210.7, "-log10(pvalue)", fontsize=11.2, rotation=90, ha='center', va='center')

# Venn
VC = {"S": (1778.3, 187.8), "H": (1727.5, 275.3), "T": (1828.8, 275.3)}
VR = 101.0
def lens(keys):
    pts = []
    for k in keys:
        c = VC[k]
        a = np.linspace(0, 2*np.pi, 720, endpoint=False)
        p = np.c_[c[0]+VR*np.cos(a), c[1]+VR*np.sin(a)]
        for o in keys:
            if o != k:
                p = p[np.hypot(p[:,0]-VC[o][0], p[:,1]-VC[o][1]) <= VR]
        pts.append(p)
    pts = np.vstack(pts); m = pts.mean(axis=0)
    return pts[np.argsort(np.arctan2(pts[:,1]-m[1], pts[:,0]-m[0]))]
for k, col in (("S", '#ff9a3c'), ("T", '#c1e582'), ("H", '#4d92c4')):
    ov.add_patch(Circle(VC[k], VR, fc=col, ec='none', zorder=1))
for keys, col in (("SH", '#d98330'), ("ST", '#c3d25c'), ("HT", '#9dd07a'), ("SHT", '#bccb55')):
    ov.add_patch(Polygon(lens(keys), closed=True, fc=col, ec='none', zorder=2))
for k in VC:
    ov.add_patch(Circle(VC[k], VR, fc='none', ec='black', lw=1.5, ls=(0, (5, 2, 1.2, 2)), zorder=3))
for t, (x, y) in VENN_COUNTS.items():
    ov.text(x, y, t, fontsize=8.5, ha='center', va='center', zorder=4)
ov.text(1777.7, 65, VENN_SETS[0], fontsize=12.5, ha='center', va='center', zorder=4)
ov.text(1556, 206.7, VENN_SETS[1], fontsize=12.5, ha='left', va='center', zorder=4)
ov.text(1921, 206.7, VENN_SETS[2], fontsize=12.5, ha='left', va='center', zorder=4)

# bar side labels and swatches
for i, t in enumerate(TERMS):
    y = 484 + i*21.02
    ov.add_patch(Rectangle((592, y-7.5), 15.4, 15, fc=MCODE_COLORS[i], ec='none'))
    ov.text(1196, y+1, t, fontsize=12.35, family=['DejaVu Sans'], ha='left', va='center')
ov.text(902.4, 947, "-log10(P)", fontsize=12.3, family=['DejaVu Sans'], ha='center', va='center')

# MCODE legend
for i, n in enumerate(MCODE_NAMES):
    y = 1127.3 + i*18.55
    c = MCODE_COLORS[i] if i < 20 else OTHER
    ov.add_patch(Rectangle((1678.3, y-6.7), 13.3, 13.4, fc=c, ec='none'))
    ov.text(1695, y, n, fontsize=11.3, va='center', color='#222222')

def mc(i):
    return OTHER if i == 0 else MCODE_COLORS[i-1]

# network E
EP = lambda x, y: (x/2.613, 470 + y/3)
seg_light, seg_dark = [], []
def e_edges(pts):
    p = np.array(pts)
    if len(p) < 2:
        return
    m = p.mean(axis=0)
    order = np.argsort(np.arctan2(p[:,1]-m[1], p[:,0]-m[0]))
    p = p[order]; n = len(p)
    if n <= 12:
        for a, b in itertools.combinations(range(n), 2):
            seg_light.append([p[a], p[b]])
        if n >= 5:
            for a in range(n):
                seg_dark.append([p[a], p[(a+n//2) % n]])
    else:
        hub = np.array(EP(300, 810))
        for a in range(n):
            seg_dark.append([p[a], hub])
            seg_light.append([p[a], p[(a+1) % n]])
            seg_light.append([p[a], p[(a+7) % n]])
e_nodes = []
for grp in E_GROUPS:
    pts = []
    for code, flat in grp:
        f = np.array(flat, dtype=float).reshape(-1, 3)
        for x, y, r in f:
            pts.append(EP(x, y)); e_nodes.append((code, x, y, r))
    e_edges(pts)
for code, x, y, r in E_LONE:
    e_nodes.append((code, x, y, r))
links = np.array(E_LINKS, dtype=float).reshape(-1, 4)
for x1, y1, x2, y2 in links:
    seg_light.append([EP(x1, y1), EP(x2, y2)])
ov.add_collection(LineCollection(seg_light, colors='#8a6fbd', linewidths=0.9, alpha=0.45, zorder=6))
ov.add_collection(LineCollection(seg_dark, colors='#54278f', linewidths=1.0, alpha=0.85, zorder=6))
for code, x, y, r in e_nodes:
    ov.add_patch(Circle(EP(x, y), r/2.613, fc=mc(code), ec='#3f8dbd', lw=0.9, zorder=7))

# network F
F_EDGE = '#8f74c0'
def net(table, ox, oy, k):
    segs = []
    for code, nodes in table:
        p = [(ox+n[1]/k, oy+n[2]/3) for n in nodes]
        segs += [[p[a], p[b]] for a, b in itertools.combinations(range(len(p)), 2)]
    ov.add_collection(LineCollection(segs, colors=F_EDGE, linewidths=1.0, alpha=0.85, zorder=8))
    for code, nodes in table:
        for lab, x, y, r in nodes:
            ov.add_patch(Circle((ox+x/k, oy+y/3), r/k, fc=mc(code), ec='#1f78b4', lw=1.0, zorder=9))
    for code, nodes in table:
        for lab, x, y, r in nodes:
            ov.text(ox+x/k+r/k+1, oy+y/3, lab, fontsize=9.8, ha='left', va='center', zorder=10)

net(F_Z4, 100, 980, 1.96)
net(F_Z9, 760, 990, 2.01)
net(F_Z6, 130, 1440, 1.742)
net(F_Z10, 850, 1440, 2.529)
lk = np.array(F_Z4_LINKS, dtype=float).reshape(-1, 4)
ov.add_collection(LineCollection([[(100+a/1.96, 980+b/3), (100+c/1.96, 980+d/3)] for a, b, c, d in lk],
                                 colors=F_EDGE, linewidths=1.0, alpha=0.85, zorder=8))
# red block
rn = pairs(F_RED_NODES); rp = [(120+x/3, 990+y/3) for x, y in rn]
ov.add_collection(LineCollection([[rp[a], rp[b]] for a, b in itertools.combinations(range(len(rp)), 2)], colors=F_EDGE, linewidths=0.8, alpha=0.7, zorder=8))
for c in rp:
    ov.add_patch(Circle(c, 12.7, fc=MCODE_COLORS[0], ec='#1f78b4', lw=1.0, zorder=9))
for lab, x, y in F_RED_LABELS:
    ov.text(120+x/3, 990+y/3, lab, fontsize=9.8, va='center', zorder=10)
# green block
gn = np.array(F_GREEN_NODES, dtype=float).reshape(-1, 3)
gp = [(100+x/1.96, 980+y/3) for x, y, r in gn]
ov.add_collection(LineCollection([[gp[a], gp[b]] for a, b in itertools.combinations(range(len(gp)), 2)], colors=F_EDGE, linewidths=0.8, alpha=0.7, zorder=8))
for c, (x, y, r) in zip(gp, gn):
    ov.add_patch(Circle(c, r/1.96, fc=MCODE_COLORS[2], ec='#1f78b4', lw=1.0, zorder=9))
for lab, x, y in F_GREEN_LABELS:
    ov.text(100+x/1.96, 980+y/3, lab, fontsize=9.8, va='center', zorder=10)

fig.savefig("out.png", dpi=100, facecolor='white')
